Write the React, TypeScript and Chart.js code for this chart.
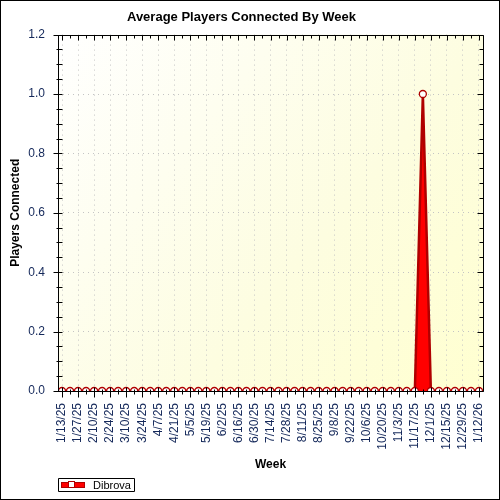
import React, { useEffect, useRef } from 'react';
import { Chart, registerables } from 'chart.js';

Chart.register(...registerables);

const weeks = [
  '1/13/25', '1/20/25', '1/27/25', '2/3/25', '2/10/25', '2/17/25', '2/24/25', '3/3/25',
  '3/10/25', '3/17/25', '3/24/25', '3/31/25', '4/7/25', '4/14/25', '4/21/25', '4/28/25',
  '5/5/25', '5/12/25', '5/19/25', '5/26/25', '6/2/25', '6/9/25', '6/16/25', '6/23/25',
  '6/30/25', '7/7/25', '7/14/25', '7/21/25', '7/28/25', '8/4/25', '8/11/25', '8/18/25',
  '8/25/25', '9/1/25', '9/8/25', '9/15/25', '9/22/25', '9/29/25', '10/6/25', '10/13/25',
  '10/20/25', '10/27/25', '11/3/25', '11/10/25', '11/17/25', '11/24/25', '12/1/25', '12/8/25',
  '12/15/25', '12/22/25', '12/29/25', '1/5/26', '1/12/26',
];

const dibrova = [
  0, 0, 0, 0, 0, 0, 0, 0,
  0, 0, 0, 0, 0, 0, 0, 0,
  0, 0, 0, 0, 0, 0, 0, 0,
  0, 0, 0, 0, 0, 0, 0, 0,
  0, 0, 0, 0, 0, 0, 0, 0,
  0, 0, 0, 0, 0, 1.0, 0, 0,
  0, 0, 0, 0, 0,
];

const seriesName = 'Dibrova';
const yMin = 0;
const yMax = 1.2;
const yMajorStep = 0.2;
const yMinorStep = 0.05;

const FONT = "'Liberation Sans', Arial, sans-serif";
const TICK_COLOR = '#14285a';
const LINE_COLOR = '#b00000';
const FILL_COLOR = '#ff0000';
const GRID_COLOR = '#c4c4c4';

const framePlugin = {
  id: 'frameDeco',
  beforeDraw(chart: any) {
    const { ctx, chartArea: a, width, height } = chart;
    ctx.save();
    ctx.fillStyle = '#ffffff';
    ctx.fillRect(0, 0, width, height);
    const g = ctx.createLinearGradient(a.left, a.top, a.right, a.bottom);
    g.addColorStop(0, '#ffffff');
    g.addColorStop(0.6, '#fdfde0');
    g.addColorStop(1, '#ffffd0');
    ctx.fillStyle = g;
    ctx.fillRect(a.left, a.top, a.right - a.left, a.bottom - a.top);
    ctx.restore();
  },
  afterDraw(chart: any) {
    const { ctx, chartArea: a, width, height } = chart;
    const xs = chart.scales.x;
    const ys = chart.scales.y;
    ctx.save();
    ctx.strokeStyle = '#000';
    ctx.lineWidth = 1;
    const L = Math.round(a.left) + 0.5;
    const R = Math.round(a.right) + 0.5;
    const T = Math.round(a.top) + 0.5;
    const B = Math.round(a.bottom) + 0.5;
    ctx.beginPath();
    ctx.rect(L, T, R - L, B - T);
    ctx.stroke();

    ctx.beginPath();
    const n = chart.data.labels.length;
    for (let i = 0; i < n; i++) {
      const px = Math.round(xs.getPixelForValue(i)) + 0.5;
      const major = i % 2 === 0;
      ctx.moveTo(px, B - (major ? 4 : 2));
      ctx.lineTo(px, B + (major ? 6 : 3));
      ctx.moveTo(px, T);
      ctx.lineTo(px, T + (major ? 5 : 3));
    }
    const steps = Math.round((yMax - yMin) / yMinorStep);
    const ratio = Math.round(yMajorStep / yMinorStep);
    for (let k = 0; k <= steps; k++) {
      const v = yMin + k * yMinorStep;
      const py = Math.round(ys.getPixelForValue(v)) + 0.5;
      const major = k % ratio === 0;
      ctx.moveTo(L - (major ? 5 : 2), py);
      ctx.lineTo(L + 4, py);
      ctx.moveTo(R - (major ? 6 : 4), py);
      ctx.lineTo(R, py);
    }
    ctx.stroke();

    // legend
    const ds = chart.data.datasets[0];
    ctx.beginPath();
    ctx.rect(58.5, 478.5, 76, 13);
    ctx.stroke();
    ctx.fillStyle = ds.backgroundColor;
    ctx.fillRect(61, 482, 24, 6);
    ctx.strokeStyle = ds.borderColor;
    ctx.strokeRect(61.5, 482.5, 23, 5);
    ctx.fillStyle = '#ffffff';
    ctx.fillRect(68, 481, 7, 7);
    ctx.strokeRect(68.5, 481.5, 6, 6);
    ctx.fillStyle = '#000';
    ctx.font = `11px ${FONT}`;
    ctx.textBaseline = 'middle';
    ctx.textAlign = 'left';
    ctx.fillText(ds.label, 93, 485.5);

    // outer border
    ctx.strokeStyle = '#000';
    ctx.strokeRect(0.5, 0.5, width - 1, height - 1);
    ctx.restore();
  },
};

export default function App() {
  const ref = useRef<HTMLCanvasElement | null>(null);

  useEffect(() => {
    if (!ref.current) return;
    const chart = new Chart(ref.current, {
      type: 'line',
      data: {
        labels: weeks,
        datasets: [
          {
            label: seriesName,
            data: dibrova,
            borderColor: LINE_COLOR,
            backgroundColor: FILL_COLOR,
            borderWidth: 2.5,
            fill: 'origin',
            tension: 0,
            pointRadius: 3.5,
            pointBackgroundColor: '#ffffff',
            pointBorderColor: LINE_COLOR,
            pointBorderWidth: 1.3,
            clip: 0,
          },
        ],
      },
      options: {
        animation: false,
        responsive: false,
        devicePixelRatio: 1,
        layout: { padding: { left: 0, right: 17, top: 0, bottom: 23 } },
        plugins: {
          legend: { display: false },
          tooltip: { enabled: false },
          title: {
            display: true,
            text: 'Average Players Connected By Week',
            color: '#000',
            font: { family: FONT, size: 13, weight: 'bold' },
            padding: { top: 10, bottom: 9 },
          },
        },
        scales: {
          x: {
            type: 'category',
            offset: true,
            grid: {
              drawTicks: false,
              color: (c: any) => (c.index % 2 === 0 ? GRID_COLOR : 'rgba(0,0,0,0)'),
            },
            border: { display: false, dash: [1, 4] },
            ticks: {
              autoSkip: false,
              minRotation: 90,
              maxRotation: 90,
              padding: 12,
              color: TICK_COLOR,
              font: { family: FONT, size: 12 },
              callback: (_v: any, i: number) => (i % 2 === 0 ? weeks[i] : ''),
            },
            title: {
              display: true,
              text: 'Week',
              color: '#000',
              font: { family: FONT, size: 12, weight: 'bold' },
              padding: { top: 4.8, bottom: 4.8 },
            },
            afterFit: (s: any) => {
              s.height = 86;
              s.paddingLeft = 0;
              s.paddingRight = 0;
            },
          },
          y: {
            min: yMin,
            max: yMax,
            grid: {
              drawTicks: false,
              color: (c: any) =>
                c.tick && c.tick.value > yMin + 1e-6 && c.tick.value < yMax - 1e-6
                  ? GRID_COLOR
                  : 'rgba(0,0,0,0)',
            },
            border: { display: false, dash: [1, 4] },
            ticks: {
              stepSize: yMajorStep,
              padding: 13,
              color: TICK_COLOR,
              font: { family: FONT, size: 12 },
              callback: (v: any) => Number(v).toFixed(1),
            },
            title: {
              display: true,
              text: 'Players Connected',
              color: '#000',
              font: { family: FONT, size: 12, weight: 'bold' },
              padding: { top: 8, bottom: 0 },
            },
            afterFit: (s: any) => {
              s.width = 58;
              s.paddingTop = 0;
              s.paddingBottom = 0;
            },
          },
        },
      },
      plugins: [framePlugin],
    });
    return () => chart.destroy();
  }, []);

  return (
    <div style={{ position: 'absolute', left: 0, top: 0, width: 500, height: 500 }}>
      <canvas ref={ref} width={500} height={500} />
    </div>
  );
}
